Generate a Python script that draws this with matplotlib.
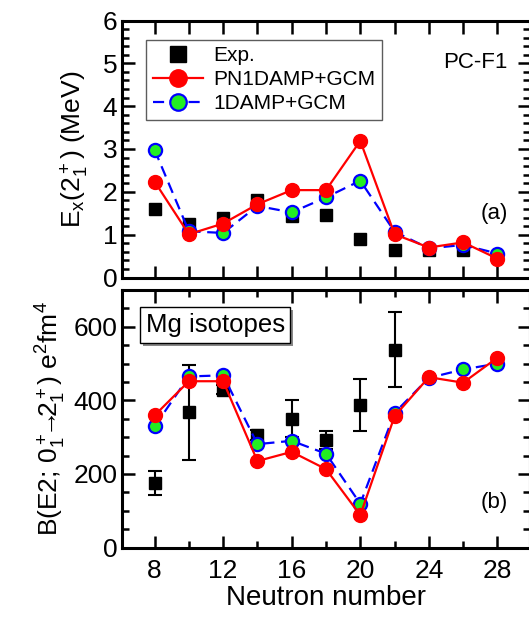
import numpy as np
import matplotlib
matplotlib.use("Agg")
import matplotlib.pyplot as plt
from matplotlib.ticker import MultipleLocator
from matplotlib.patches import Rectangle

plt.rcParams['font.family'] = ['Liberation Sans', 'DejaVu Sans']
plt.rcParams['mathtext.fontset'] = 'custom'
plt.rcParams['mathtext.rm'] = 'Liberation Sans'
plt.rcParams['mathtext.it'] = 'Liberation Sans'

# ---- data ----
N = [8, 10, 12, 14, 16, 18, 20, 22, 24, 26, 28]

ex_exp = [1.59, 1.25, 1.38, 1.82, 1.43, 1.46, 0.89, 0.64, 0.65, 0.65, np.nan]
ex_pn = [2.24, 1.01, 1.26, 1.71, 2.04, 2.04, 3.19, 1.01, 0.70, 0.82, 0.44]
ex_1d = [2.98, 1.08, 1.04, 1.67, 1.52, 1.87, 2.26, 1.07, 0.68, 0.76, 0.56]

N_be2_exp = [8, 10, 12, 14, 16, 18, 20, 22]
be2_exp = [176, 367, 429, 305, 350, 293, 388, 538]
be2_err = [32, 129, 12, 14, 50, 25, 70, 101]
be2_pn = [359, 452, 452, 235, 260, 213, 88, 357, 463, 448, 516]
be2_1d = [329, 465, 468, 281, 290, 255, 119, 366, 461, 484, 500]

xticks_major = [8, 12, 16, 20, 24, 28]

W, H = 529, 621
fig = plt.figure(figsize=(W / 100, H / 100), dpi=100)
left = 122 / W
width = (530 - 122) / W
ax1 = fig.add_axes([left, (H - 277.5) / H, width, 257 / H])
ax2 = fig.add_axes([left, (H - 547.5) / H, width, 257.5 / H])

red_kw = dict(color='red', lw=1.6, marker='o', ms=10, mfc='red', mec='red', zorder=4)
blue_kw = dict(color='blue', lw=1.6, ls=(0, (5, 3)), marker='o', ms=9.5, mfc='#22ee22',
               mec='blue', mew=1.6, zorder=3)
exp_kw = dict(ls='none', marker='s', ms=9, color='black', zorder=2)

# top panel
ax1.plot(N, ex_exp, **exp_kw)
ax1.plot(N, ex_1d, **blue_kw)
ax1.plot(N, ex_pn, **red_kw)
h_exp = ax1.plot([], [], label='Exp.', **exp_kw)[0]
h_pn = ax1.plot([], [], label='PN1DAMP+GCM', **red_kw)[0]
h_1d = ax1.plot([], [], label='1DAMP+GCM', **blue_kw)[0]
leg = ax1.legend(handles=[h_exp, h_pn, h_1d], loc='upper left', bbox_to_anchor=(0.06, 0.925),
                 fontsize=15, frameon=True, fancybox=False, edgecolor='#333333',
                 handlelength=2.4, handletextpad=0.5, labelspacing=0.25, borderpad=0.3,
                 borderaxespad=0.0, markerscale=1.25)
leg.get_frame().set_linewidth(1.0)

ax1.set_ylim(0, 6)
ax1.set_xlim(6.1, 29.9)
ax1.yaxis.set_major_locator(MultipleLocator(1))
ax1.yaxis.set_minor_locator(MultipleLocator(0.2))
ax1.xaxis.set_major_locator(MultipleLocator(2))
ax1.set_xticklabels([])
ax1.set_ylabel(r'E$_\mathregular{x}$(2$^+_1$) (MeV)', fontsize=19, labelpad=8)
ax1.text(0.945, 0.838, 'PC-F1', transform=ax1.transAxes, ha='right', va='center', fontsize=16)
ax1.text(0.945, 0.25, '(a)', transform=ax1.transAxes, ha='right', va='center', fontsize=16)

# bottom panel
ax2.errorbar(N_be2_exp, be2_exp, yerr=be2_err, ls='none', marker='s', ms=9, color='black',
             ecolor='black', elinewidth=1.5, capsize=5, capthick=1.5, zorder=2)
ax2.plot(N, be2_1d, **blue_kw)
ax2.plot(N, be2_pn, **red_kw)
ax2.set_ylim(0, 700)
ax2.set_xlim(6.1, 29.9)
ax2.yaxis.set_major_locator(MultipleLocator(200))
ax2.yaxis.set_minor_locator(MultipleLocator(50))
ax2.set_xticks(xticks_major)
ax2.xaxis.set_minor_locator(MultipleLocator(2))
ax2.set_xlabel('Neutron number', fontsize=20, labelpad=2)
ax2.set_ylabel(r'B(E2; 0$^+_1\!\!\!\rightarrow\!\!\!$2$^+_1$) e$^2$fm$^4$', fontsize=19, labelpad=4)
ax2.text(0.945, 0.173, '(b)', transform=ax2.transAxes, ha='right', va='center', fontsize=16)

# Mg isotopes box with shadow
mg = ax2.text(0.058, 0.864, 'Mg isotopes', transform=ax2.transAxes, ha='left', va='center',
              fontsize=18.5,
              bbox=dict(boxstyle='square,pad=0.22', fc='white', ec='black', lw=1.0), zorder=6)

for ax in (ax1, ax2):
    for s in ax.spines.values():
        s.set_linewidth(2.2)
    ax.tick_params(which='both', direction='in', top=True, right=True, width=1.8)
    ax.tick_params(which='major', length=9, labelsize=19)
    ax.tick_params(which='minor', length=5)
    ax.tick_params(axis='x', which='major', pad=8)

fig.canvas.draw()
bb = mg.get_bbox_patch().get_window_extent()
shadow = Rectangle((bb.x0 + 3, bb.y0 - 3), bb.width, bb.height, transform=None,
                   facecolor='#888888', edgecolor='none', zorder=5)
ax2.add_artist(shadow)

fig.savefig('out.png', dpi=100)
